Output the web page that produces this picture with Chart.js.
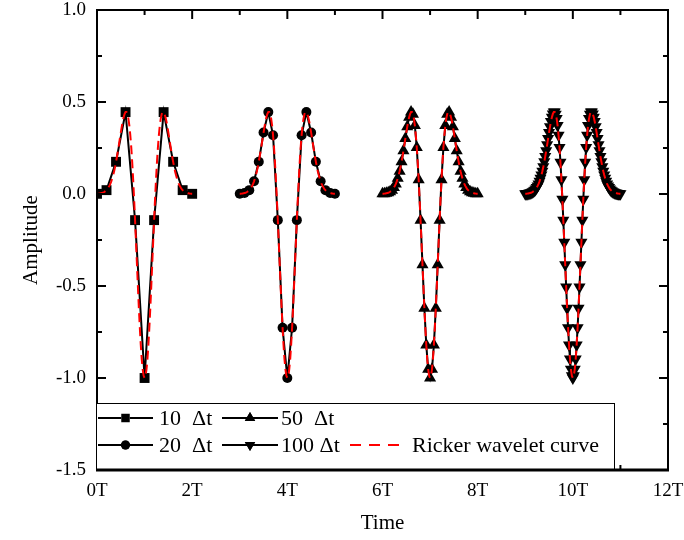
<!DOCTYPE html>
<html>
<head>
<meta charset="utf-8">
<script src="https://cdn.jsdelivr.net/npm/chart.js@4.4.0/dist/chart.umd.min.js"></script>
<style>
  body { margin: 0; background: #fff; }
</style>
</head>
<body>
<canvas id="wave" width="684" height="540"></canvas>
<script>
// sampled Ricker wavelets, time in units of T
const seriesNames = ['10  Δt', '20  Δt', '50  Δt', '100 Δt'];
const curveName = 'Ricker wavelet curve';
const startT = [0, 3, 6, 9];
const stepT = [0.2, 0.1, 0.04, 0.02];

const amp10 = [0.001, 0.021, 0.175, 0.445, -0.142, -1.000, -0.142, 0.445, 0.175, 0.021, 0.001];
const amp20 = [0.001, 0.005, 0.021, 0.069, 0.175, 0.334, 0.445, 0.319, -0.142, -0.727, -1.000,
  -0.727, -0.142, 0.319, 0.445, 0.334, 0.175, 0.069, 0.021, 0.005, 0.001];
const amp50 = [0.001, 0.002, 0.004, 0.007, 0.012, 0.021, 0.035, 0.055, 0.085, 0.124, 0.175, 0.235, 0.301,
  0.365, 0.417, 0.445, 0.434, 0.372, 0.253, 0.078, -0.142, -0.384, -0.621, -0.820, -0.953, -1.000,
  -0.953, -0.820, -0.621, -0.384, -0.142, 0.078, 0.253, 0.372, 0.434, 0.445, 0.417, 0.365, 0.301,
  0.235, 0.175, 0.124, 0.085, 0.055, 0.035, 0.021, 0.012, 0.007, 0.004, 0.002, 0.001];
const amp100 = [0.001, 0.001, 0.002, 0.003, 0.004, 0.005, 0.007, 0.009, 0.012, 0.016,
  0.021, 0.027, 0.035, 0.044, 0.055, 0.069, 0.085, 0.103, 0.124, 0.148,
  0.175, 0.204, 0.235, 0.267, 0.301, 0.334, 0.365, 0.394, 0.417, 0.435,
  0.445, 0.445, 0.434, 0.410, 0.372, 0.319, 0.253, 0.172, 0.078, -0.028,
  -0.142, -0.262, -0.384, -0.505, -0.621, -0.727, -0.820, -0.897, -0.953, -0.988,
  -1.000,
  -0.988, -0.953, -0.897, -0.820, -0.727, -0.621, -0.505, -0.384, -0.262, -0.142,
  -0.028, 0.078, 0.172, 0.253, 0.319, 0.372, 0.410, 0.434, 0.445, 0.445,
  0.435, 0.417, 0.394, 0.365, 0.334, 0.301, 0.267, 0.235, 0.204, 0.175,
  0.148, 0.124, 0.103, 0.085, 0.069, 0.055, 0.044, 0.035, 0.027, 0.021,
  0.016, 0.012, 0.009, 0.007, 0.005, 0.004, 0.003, 0.002, 0.001, 0.001];
const amps = [amp10, amp20, amp50, amp100];

// the red reference curve: same shape as the finest sampling, one per block
const rickerStart = [0, 3, 6, 9];
const rickerStep = 0.02;
const rickerAmp = amp100;

const pointStyles = ['rect', 'circle', 'triangle', 'triangle'];
const pointRot = [0, 0, 0, 180];
const pointSize = [7, 5, 7, 7];

const font = 'Liberation Serif';

function sampled(start, step, values) {
  return values.map((v, i) => ({ x: +(start + i * step).toFixed(3), y: v }));
}

const curve = [];
rickerStart.forEach((s, k) => {
  if (k > 0) curve.push({ x: s - 0.5, y: null });
  curve.push(...sampled(s, rickerStep, rickerAmp));
});

const datasets = amps.map((a, i) => ({
  label: seriesNames[i],
  data: sampled(startT[i], stepT[i], a),
  borderColor: '#000',
  backgroundColor: '#000',
  borderWidth: 2,
  pointStyle: pointStyles[i],
  rotation: pointRot[i],
  pointRadius: pointSize[i],
  pointBorderWidth: 0,
  tension: 0
}));
datasets.push({
  label: curveName,
  data: curve,
  borderColor: '#ff0000',
  borderWidth: 2,
  borderDash: [9, 5],
  pointRadius: 0,
  spanGaps: false,
  order: -1
});

function seg(ctx, x1, y1, x2, y2) {
  ctx.beginPath(); ctx.moveTo(x1, y1); ctx.lineTo(x2, y2); ctx.stroke();
}

const frame = {
  id: 'frame',
  afterDraw(chart) {
    const { ctx, chartArea: a, scales: { x, y } } = chart;
    ctx.save();
    ctx.strokeStyle = '#000';
    ctx.lineWidth = 2;
    for (let v = 0; v <= 12; v += 1) {
      const px = x.getPixelForValue(v);
      const len = v % 2 === 0 ? 9 : 5;
      seg(ctx, px, a.bottom, px, a.bottom - len);
      seg(ctx, px, a.top, px, a.top + len);
    }
    for (let k = 0; k <= 10; k++) {
      const py = y.getPixelForValue(-1.5 + k * 0.25);
      const len = k % 2 === 0 ? 9 : 5;
      seg(ctx, a.left, py, a.left + len, py);
      seg(ctx, a.right, py, a.right - len, py);
    }
    ctx.strokeRect(a.left, a.top, a.width, a.height);

    // legend box
    const L = { x: 96.5, y: 403.5, w: 518, h: 66 };
    ctx.fillStyle = '#fff';
    ctx.fillRect(L.x, L.y, L.w, L.h);
    ctx.lineWidth = 1;
    ctx.strokeRect(L.x, L.y, L.w, L.h);
    ctx.lineWidth = 3;
    seg(ctx, a.left - 1, a.bottom, a.right + 1, a.bottom);

    const rows = [418, 445];
    const cols = [{ x1: 98, x2: 153, t: 159 }, { x1: 222, x2: 278, t: 281 }];
    const order = [[0, 2], [1, 3]]; // dataset index per row, per column
    ctx.font = '22px "' + font + '"';
    ctx.textBaseline = 'middle';
    ctx.textAlign = 'left';
    order.forEach((row, r) => {
      row.forEach((di, c) => {
        const col = cols[c];
        const cy = rows[r];
        ctx.strokeStyle = '#000';
        ctx.lineWidth = 2;
        seg(ctx, col.x1, cy, col.x2, cy);
        Chart.helpers.drawPoint(ctx, {
          pointStyle: pointStyles[di], rotation: pointRot[di],
          radius: di === 1 ? 4.5 : 6, borderWidth: 0
        }, (col.x1 + col.x2) / 2, cy);
        ctx.fillStyle = '#000';
        ctx.fill();
        ctx.fillText(seriesNames[di], col.t, cy + 1);
      });
    });
    ctx.strokeStyle = '#ff0000';
    ctx.lineWidth = 2;
    ctx.setLineDash([11, 8]);
    seg(ctx, 350, rows[1], 399, rows[1]);
    ctx.setLineDash([]);
    ctx.fillStyle = '#000';
    ctx.fillText(curveName, 412, rows[1] + 1);
    ctx.restore();
  }
};

new Chart(document.getElementById('wave'), {
  type: 'line',
  data: { datasets },
  options: {
    responsive: false,
    animation: false,
    layout: { padding: { top: 10, right: 16, left: 0, bottom: 0 } },
    plugins: { legend: { display: false }, tooltip: { enabled: false } },
    scales: {
      x: {
        type: 'linear',
        min: 0, max: 12,
        grid: { display: false, drawTicks: false },
        border: { display: false },
        ticks: {
          stepSize: 2, padding: 12, color: '#000',
          font: { family: font, size: 19, lineHeight: 1 },
          callback: (v) => v + 'T'
        },
        title: { display: true, text: 'Time', color: '#000', font: { family: font, size: 21 }, padding: { top: 0, bottom: 4 } },
        afterFit: (s) => { s.height = 70; s.paddingLeft = 0; s.paddingRight = 0; }
      },
      y: {
        min: -1.5, max: 1.0,
        grid: { display: false, drawTicks: false },
        border: { display: false },
        ticks: {
          stepSize: 0.5, padding: 11, color: '#000',
          font: { family: font, size: 19, lineHeight: 1 },
          callback: (v) => v.toFixed(1)
        },
        title: { display: true, text: 'Amplitude', color: '#000', font: { family: font, size: 21 }, padding: { top: 19, bottom: 0 } },
        afterFit: (s) => { s.width = 97; s.paddingTop = 0; s.paddingBottom = 0; }
      }
    }
  },
  plugins: [frame]
});
</script>
</body>
</html>
